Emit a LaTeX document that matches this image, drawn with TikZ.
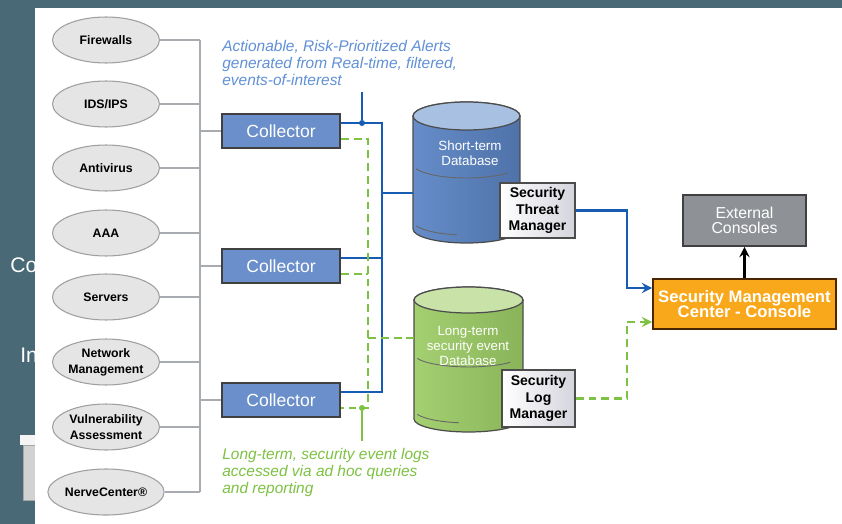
\documentclass[tikz,border=0pt]{standalone}
\usepackage{fontspec}
\setmainfont{Liberation Sans}
\usetikzlibrary{shapes,arrows,positioning}

\definecolor{slate}{RGB}{72,105,117}
\definecolor{collblue}{RGB}{107,143,202}
\definecolor{linkblue}{RGB}{22,92,178}
\definecolor{noteblue}{RGB}{96,144,214}
\definecolor{linkgreen}{RGB}{125,194,66}
\definecolor{busgray}{RGB}{168,172,176}
\definecolor{ellgray}{RGB}{229,229,229}
\definecolor{stbody}{RGB}{92,134,198}
\definecolor{sttop}{RGB}{168,192,226}
\definecolor{ltbody}{RGB}{156,204,101}
\definecolor{lttop}{RGB}{200,226,168}
\definecolor{smcorange}{RGB}{248,168,26}
\definecolor{extgray}{RGB}{142,145,150}

\begin{document}
\begin{tikzpicture}[
    x=0.02cm, y=-0.02cm,
    source/.style={ellipse, draw=gray!75, fill=ellgray, line width=0.6pt,
        minimum width=2.14cm, minimum height=0.92cm, inner sep=0pt, align=center,
        font=\fontsize{7}{9}\selectfont\bfseries},
    collector/.style={rectangle, draw=black!75, fill=collblue, line width=0.9pt,
        minimum width=2.36cm, minimum height=0.68cm, text=white, font=\fontsize{10}{12}\selectfont},
    dbedge/.style={draw=black!70, line width=0.7pt},
    dbarc/.style={black!60, line width=0.5pt},
    dbtext/.style={align=center, text=white, inner sep=0pt, font=\fontsize{7.6}{8.4}\selectfont},
    manager/.style={rectangle, draw=black!70, line width=0.8pt, left color=white,
        right color=blue!12!gray!30, align=center, inner sep=1pt,
        font=\fontsize{8}{9.4}\selectfont\bfseries},
    console/.style={rectangle, draw=black!75, line width=0.9pt, align=center, inner sep=1pt},
    note/.style={align=left, inner sep=0pt, font=\fontsize{8.8}{9.7}\selectfont\itshape},
    bus/.style={busgray, line width=1.5pt},
    bline/.style={linkblue, line width=1.6pt},
    gline/.style={linkgreen, line width=1.6pt, dash pattern=on 4.5pt off 2.8pt},
    arrow/.style={->, >=stealth},
    dot/.style={circle, fill, inner sep=0pt, minimum size=3.4pt}
]
    \useasboundingbox (0,0) rectangle (842,524);

    % Slide behind the picture
    \fill[slate] (0,0) rectangle (842,524);
    \node[anchor=base west, text=white, inner sep=0pt, font=\fontsize{12}{14}\selectfont] (frag1) at (10,272) {Co};
    \node[anchor=base west, text=white, inner sep=0pt, font=\fontsize{12}{14}\selectfont] (frag2) at (20,362) {In};
    \fill[gray!8] (20,435) rectangle (36,445);
    \filldraw[fill=gray!35, draw=gray!70] (23,445) rectangle (37,500);
    \fill[white] (35,8) rectangle (842,524);

    % Event sources
    \node[source] (fw) at (106,40) {Firewalls};
    \node[source] (ids) at (106,104) {IDS/IPS};
    \node[source] (av) at (106,168) {Antivirus};
    \node[source] (aaa) at (106,233) {AAA};
    \node[source] (srv) at (106,297) {Servers};
    \node[source] (nm) at (106,362) {Network\\Management};
    \node[source] (va) at (106,427) {Vulnerability\\Assessment};
    \node[source] (nc) at (106,492) {NerveCenter®};

    % Collectors
    \node[collector] (c1) at (281,131) {Collector};
    \node[collector] (c2) at (281,266) {Collector};
    \node[collector] (c3) at (281,400) {Collector};

    % Source bus
    \coordinate (busx) at (200,0);
    \draw[bus] (busx |- fw.east) -- (busx |- nc.east);
    \foreach \s in {fw,ids,av,aaa,srv,nm,va,nc}
        \draw[bus] (\s.east) -- (busx |- \s.east);
    \foreach \c in {c1,c2,c3}
        \draw[bus] (busx |- \c.west) -- (\c.west);

    % Databases
    \shade[dbedge, left color=stbody!94!white, right color=stbody!85!black]
        (413,116) -- (413,229) arc[start angle=180, end angle=360, x radius=1.07cm, y radius=0.28cm]
        -- (520,116) arc[start angle=0, end angle=180, x radius=1.07cm, y radius=0.28cm] -- cycle;
    \filldraw[dbedge, fill=sttop] (466.5,116) ellipse[x radius=1.07cm, y radius=0.28cm];
    \draw[dbarc] (416.2,168.8) arc[start angle=200, end angle=320, x radius=1.07cm, y radius=0.28cm];
    \draw[dbarc] (416.2,225.8) arc[start angle=200, end angle=260, x radius=1.07cm, y radius=0.28cm];
    \coordinate (stdb) at (466.5,172.5);

    \shade[dbedge, left color=ltbody!92!white, right color=ltbody!88!black]
        (414,300) -- (414,419) arc[start angle=180, end angle=360, x radius=1.09cm, y radius=0.26cm]
        -- (523,300) arc[start angle=0, end angle=180, x radius=1.09cm, y radius=0.26cm] -- cycle;
    \filldraw[dbedge, fill=lttop] (468.5,300) ellipse[x radius=1.09cm, y radius=0.26cm];
    \draw[dbarc] (417.3,358.4) arc[start angle=200, end angle=320, x radius=1.09cm, y radius=0.26cm];
    \draw[dbarc] (417.3,414.4) arc[start angle=200, end angle=260, x radius=1.09cm, y radius=0.26cm];
    \coordinate (ltdb) at (468.5,359.5);

    \node[dbtext] (sttxt) at (470,153) {Short-term\\Database};
    \node[dbtext] (lttxt) at (468,346) {Long-term\\security event\\Database};

    % Managers and consoles
    \node[manager, minimum width=1.5cm, minimum height=1.1cm] (stm) at (537.5,210.5) {Security\\Threat\\Manager};
    \node[manager, minimum width=1.46cm, minimum height=1.14cm] (slm) at (538.5,398.5) {Security\\Log\\Manager};
    \node[console, fill=smcorange, draw=black!70!orange, text=white, minimum width=3.66cm, minimum height=1cm,
        font=\fontsize{9.5}{9}\selectfont\bfseries] (smc) at (744.5,304) {Security Management\\Center - Console};
    \node[console, fill=extgray, text=white, minimum width=2.46cm, minimum height=1.02cm,
        font=\fontsize{9}{8.8}\selectfont] (ext) at (744.5,220.5) {External\\Consoles};

    % Alert path (blue)
    \coordinate (c1b) at ([yshift=1.6mm]c1.east);
    \coordinate (c2b) at ([yshift=1.6mm]c2.east);
    \coordinate (c3b) at ([yshift=1.6mm]c3.east);
    \coordinate (bx) at (382,0);
    \coordinate (stin) at (413,193);
    \draw[bline] (c1b) -- (bx |- c1b) -- (bx |- c3b) -- (c3b);
    \draw[bline] (c2b) -- (bx |- c2b);
    \draw[bline] (bx |- stin) -- (stin);

    % Log path (green)
    \coordinate (c1g) at ([yshift=-1.6mm]c1.east);
    \coordinate (c2g) at ([yshift=-1.6mm]c2.east);
    \coordinate (c3g) at ([yshift=-1.6mm]c3.east);
    \coordinate (gx) at (368,0);
    \coordinate (ltin) at (414,338);
    \draw[gline] (c1g) -- (gx |- c1g) -- (gx |- c3g) -- (c3g);
    \draw[gline] (c2g) -- (gx |- c2g);
    \draw[gline] (gx |- ltin) -- (ltin);

    % To the console
    \coordinate (rx) at (627,0);
    \coordinate (smcb) at ([yshift=3.2mm]smc.west);
    \coordinate (smcg) at ([yshift=-3.6mm]smc.west);
    \draw[bline, arrow] (stm.east) -- (rx |- stm.east) -- (rx |- smcb) -- (smcb);
    \draw[gline, arrow] (slm.east) -- (rx |- slm.east) -- (rx |- smcg) -- (smcg);
    \draw[arrow, line width=1.6pt] (smc.north) -- (ext.south);

    % Notes
    \node[note, text=noteblue, anchor=north west] (alerts) at (222,40) {Actionable, Risk-Prioritized Alerts\\generated from Real-time, filtered,\\events-of-interest};
    \node[note, text=linkgreen, anchor=north west] (logs) at (222,448) {Long-term, security event logs\\accessed via ad hoc queries\\and reporting};
    \node[dot, linkblue] (bdot) at (362,123) {};
    \node[dot, linkgreen] (gdot) at (362,408) {};
    \draw[linkblue, line width=0.6pt, shorten >=1.2mm] (bdot) -- (bdot |- alerts.south);
    \draw[linkgreen, line width=0.6pt, shorten >=1.4mm] (gdot) -- (gdot |- logs.north);
\end{tikzpicture}
\end{document}
